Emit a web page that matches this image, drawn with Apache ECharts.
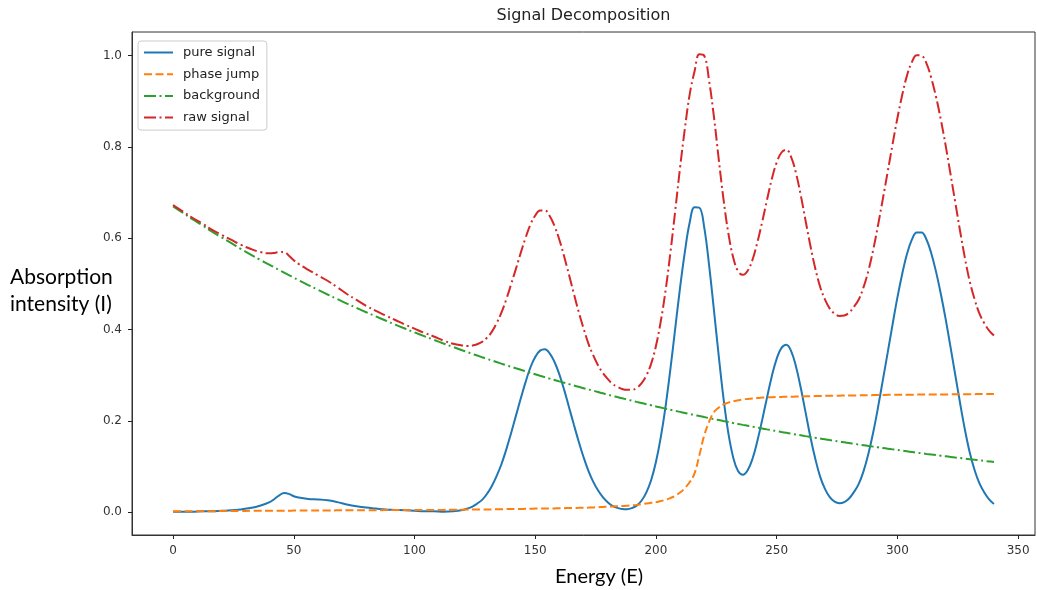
<!DOCTYPE html>
<html><head><meta charset="utf-8">
<script src="https://cdn.jsdelivr.net/npm/echarts@6/dist/echarts.min.js"></script>
<style>html,body{margin:0;padding:0;background:#fff}#chart{width:1037px;height:590px}</style>
</head><body><div id="chart"></div>
<script>
const energy = [
 0,4,8,12,16,20,24,28,32,36,
 40,42,44,46,48,50,52,
 56,60,64,68,72,76,80,84,88,92,96,100,104,108,112,116,
 120,122,124,126,128,130,132,134,136,138,
 140,142,144,146,148,150,152,154,156,158,
 160,162,164,166,168,170,172,174,176,178,
 180,182,184,186,188,190,192,194,196,198,
 200,202,204,206,208,210,212,214,216,218,
 220,222,224,226,228,230,232,234,236,238,
 240,242,244,246,248,250,252,254,256,258,
 260,262,264,266,268,270,272,274,276,278,
 280,282,284,286,288,290,292,294,296,298,
 300,302,304,306,308,310,312,314,316,318,
 320,322,324,326,328,330,332,334,336,338,
 340];

const pureSignal = [
 0.001,0.001,0.001,0.002,0.002,0.003,0.004,0.006,0.009,0.014,
 0.022,0.029,0.037,0.042,0.040,0.035,0.032,
 0.029,0.028,0.026,0.022,0.017,0.013,0.010,0.008,0.006,0.005,0.004,0.003,0.002,0.002,0.001,0.002,
 0.005,0.008,0.012,0.019,0.027,0.040,0.057,0.079,0.105,0.137,
 0.173,0.211,0.249,0.285,0.317,0.340,0.354,0.357,0.348,0.329,
 0.302,0.268,0.230,0.192,0.155,0.121,0.091,0.067,0.048,0.033,
 0.022,0.014,0.0095,0.007,0.0066,0.0088,0.0144,0.025,0.043,0.070,
 0.110,0.164,0.232,0.314,0.403,0.492,0.571,0.635,0.668,0.667,
 0.624,0.542,0.444,0.343,0.249,0.173,0.120,0.090,0.082,0.092,
 0.117,0.156,0.202,0.251,0.298,0.336,0.360,0.367,0.353,0.319,
 0.272,0.218,0.164,0.117,0.078,0.051,0.033,0.023,0.0195,0.022,
 0.030,0.044,0.062,0.090,0.128,0.175,0.230,0.290,0.350,0.411,
 0.470,0.522,0.566,0.597,0.613,0.613,0.598,0.568,0.527,0.478,
 0.423,0.362,0.300,0.238,0.180,0.130,0.092,0.063,0.043,0.028,
 0.018];

const phaseJump = [
 0.002,0.002,0.002,0.002,0.002,0.0025,0.0025,0.0025,0.003,0.003,
 0.003,0.003,0.003,0.003,0.003,0.0035,0.0035,
 0.0035,0.0035,0.0035,0.004,0.004,0.004,0.004,0.004,0.0045,0.0045,0.0045,0.005,0.005,0.005,0.005,0.0055,
 0.0055,0.0058,0.006,0.006,0.006,0.006,0.006,0.0063,0.0065,0.0068,
 0.007,0.007,0.007,0.0073,0.0075,0.0078,0.008,0.008,0.008,0.0083,
 0.0085,0.0088,0.009,0.0093,0.0095,0.0098,0.010,0.0105,0.011,0.0115,
 0.012,0.0125,0.013,0.0135,0.014,0.015,0.016,0.0175,0.019,0.0205,
 0.022,0.0245,0.027,0.031,0.036,0.043,0.053,0.066,0.085,0.125,
 0.168,0.198,0.219,0.229,0.236,0.240,0.243,0.245,0.247,0.248,
 0.249,0.250,0.251,0.2515,0.252,0.2523,0.2525,0.2528,0.253,0.2533,
 0.2535,0.2538,0.254,0.2543,0.2545,0.2548,0.255,0.2552,0.2553,0.2555,
 0.2556,0.2558,0.256,0.2562,0.2563,0.2565,0.2566,0.2568,0.257,0.2571,
 0.2572,0.2573,0.2574,0.2575,0.2576,0.2577,0.2578,0.2579,0.258,0.258,
 0.258,0.2581,0.2582,0.2583,0.2584,0.2585,0.2586,0.2587,0.2588,0.2589,
 0.259];

const background = [
 0.670,0.656,0.642,0.629,0.615,0.6025,0.590,0.577,0.565,0.553,
 0.5418,0.5361,0.5304,0.5248,0.5192,0.5137,0.5083,
 0.4976,0.4872,0.4769,0.4669,0.4571,0.4475,0.4381,0.4289,0.4199,0.4110,0.4024,0.3939,0.3857,0.3776,0.3696,0.3619,
 0.3543,0.3506,0.3468,0.3432,0.3395,0.3359,0.3324,0.3289,0.3254,0.3220,
 0.3186,0.3152,0.3119,0.3086,0.3053,0.3021,0.2989,0.2958,0.2926,0.2896,
 0.2865,0.2835,0.2805,0.2775,0.2746,0.2717,0.2688,0.2660,0.2632,0.2604,
 0.2576,0.2549,0.2522,0.2496,0.2469,0.2443,0.2417,0.2392,0.2366,0.2341,
 0.2317,0.2292,0.2268,0.2244,0.2220,0.2197,0.2174,0.2151,0.2128,0.2106,
 0.2083,0.2061,0.2039,0.2018,0.1996,0.1975,0.1954,0.1934,0.1913,0.1893,
 0.1873,0.1853,0.1834,0.1814,0.1795,0.1776,0.1757,0.1739,0.1720,0.1702,
 0.1684,0.1666,0.1649,0.1631,0.1614,0.1597,0.1580,0.1564,0.1547,0.1531,
 0.1515,0.1499,0.1483,0.1467,0.1451,0.1436,0.1421,0.1406,0.1391,0.1376,
 0.1362,0.1347,0.1333,0.1319,0.1305,0.1291,0.1277,0.1264,0.1250,0.1237,
 0.1224,0.1211,0.1198,0.1186,0.1173,0.1161,0.1149,0.1136,0.1124,0.1112,
 0.1101];

const rawSignal = [
 0.673,0.659,0.645,0.633,0.619,0.608,0.597,0.586,0.577,0.570,
 0.567,0.568,0.570,0.570,0.562,0.552,0.544,
 0.531,0.519,0.507,0.493,0.478,0.465,0.452,0.441,0.431,0.421,0.411,0.402,0.393,0.385,0.376,0.369,
 0.365,0.364,0.365,0.368,0.373,0.382,0.395,0.414,0.437,0.466,
 0.499,0.533,0.568,0.601,0.630,0.650,0.661,0.661,0.649,0.627,
 0.597,0.560,0.520,0.479,0.439,0.403,0.370,0.344,0.322,0.305,
 0.292,0.281,0.275,0.270,0.268,0.268,0.272,0.282,0.299,0.325,
 0.364,0.418,0.486,0.569,0.661,0.755,0.841,0.916,0.966,1.003,
 1.000,0.946,0.867,0.774,0.685,0.611,0.558,0.528,0.520,0.529,
 0.553,0.591,0.636,0.684,0.730,0.766,0.788,0.794,0.778,0.743,
 0.694,0.638,0.583,0.534,0.494,0.466,0.446,0.435,0.430,0.431,
 0.437,0.450,0.466,0.493,0.529,0.575,0.629,0.687,0.746,0.806,
 0.863,0.914,0.957,0.986,1.001,1.000,0.984,0.952,0.910,0.860,
 0.803,0.741,0.678,0.615,0.556,0.505,0.466,0.435,0.414,0.398,
 0.387];

const xTicks = [0,50,100,150,200,250,300,350];
const yTicks = [0,0.2,0.4,0.6,0.8,1.0];
const seriesNames = ['pure signal','phase jump','background','raw signal'];
const titleText = 'Signal Decomposition';
const xName = 'Energy (E)';
const yNameLines = ['Absorption','intensity (I)'];

const colors = ['#1f77b4','#ff7f0e','#2ca02c','#d62728'];
const lineTypes = ['solid',[8,3.5],[12,3.5,2,3.5],[12,3.5,2,3.5]];
const values = [pureSignal, phaseJump, background, rawSignal];

const chart = echarts.init(document.getElementById('chart'), null, {renderer:'canvas'});
const tickFont = {fontFamily:'DejaVu Sans', fontSize:12, color:'#333'};
const axisLineStyle = {show:true, onZero:false, lineStyle:{color:'#333', width:1}};
const tickStyle = {color:'#222', width:1};

chart.setOption({
  animation:false,
  backgroundColor:'#ffffff',
  grid:{left:132, right:2, top:32, bottom:55, show:true, borderColor:'#333', borderWidth:1, backgroundColor:'transparent'},
  xAxis:{type:'value', min:-17, max:357,
    axisLine:axisLineStyle, splitLine:{show:false},
    axisTick:{show:true, inside:false, customValues:xTicks, length:4, lineStyle:tickStyle},
    axisLabel:Object.assign({customValues:xTicks, margin:10, formatter:v=>String(v)}, tickFont)},
  yAxis:{type:'value', min:-0.05, max:1.052,
    axisLine:axisLineStyle, splitLine:{show:false},
    axisTick:{show:true, inside:false, customValues:yTicks, length:4, lineStyle:tickStyle},
    axisLabel:Object.assign({customValues:yTicks, margin:10, formatter:v=>v.toFixed(1)}, tickFont)},
  legend:{left:138, top:41, orient:'vertical', itemWidth:29, itemHeight:14, itemGap:8.7,
    padding:[5,7,6,5], borderColor:'#cccccc', borderWidth:1, borderRadius:3,
    backgroundColor:'rgba(255,255,255,0.8)',
    itemStyle:{opacity:0, borderWidth:0},
    textStyle:{fontFamily:'DejaVu Sans', fontSize:13, color:'#222', padding:[0,0,0,5]},
    data:seriesNames},
  graphic:[
    {type:'text', x:583.5, y:16, style:{text:titleText, font:'16px "DejaVu Sans"', fill:'#222', textAlign:'center', textVerticalAlign:'middle', align:'center', verticalAlign:'middle'}},
    {type:'text', x:599, y:577, style:{text:xName, font:'20px Lato', fill:'#000', textAlign:'center', textVerticalAlign:'middle', align:'center', verticalAlign:'middle'}},
    {type:'text', x:10, y:277, style:{text:yNameLines[0], font:'21px Lato', fill:'#000', textAlign:'left', textVerticalAlign:'middle', align:'left', verticalAlign:'middle'}},
    {type:'text', x:10, y:304, style:{text:yNameLines[1], font:'21px Lato', fill:'#000', textAlign:'left', textVerticalAlign:'middle', align:'left', verticalAlign:'middle'}}
  ],
  series: seriesNames.map((name,k)=>({
    name:name, type:'line', symbol:'none', showSymbol:false, smooth:0.4,
    data: energy.map((e,i)=>[e, values[k][i]]),
    lineStyle:{color:colors[k], width:2, type:lineTypes[k]},
    itemStyle:{color:colors[k]},
    emphasis:{disabled:true},
    z: 2+k
  }))
});
</script></body></html>
